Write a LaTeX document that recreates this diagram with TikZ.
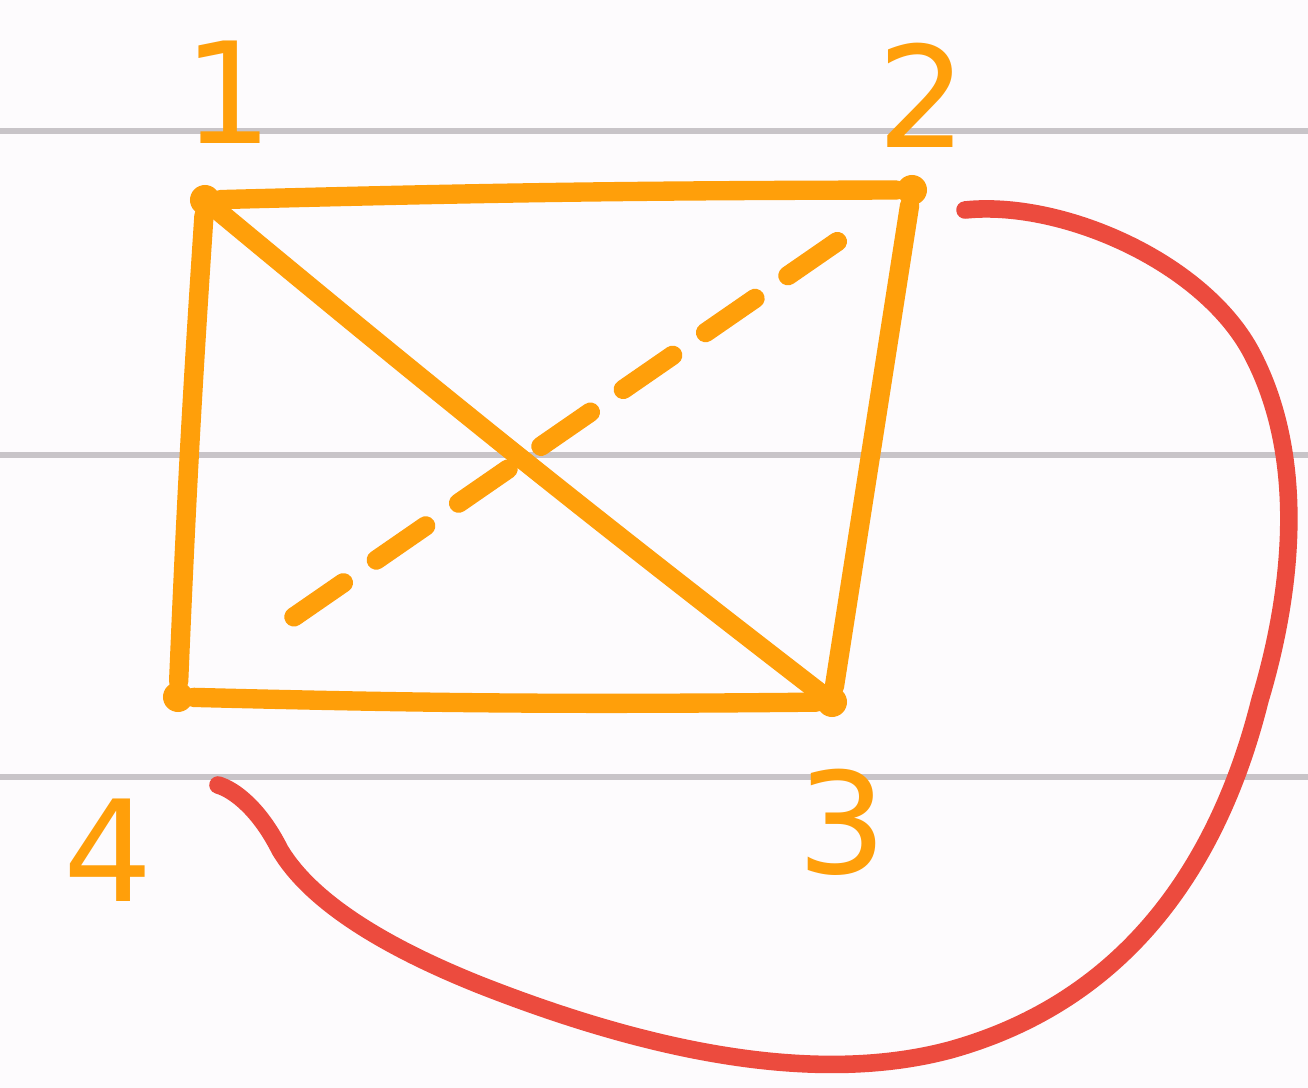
\documentclass[tikz,border=0pt]{standalone}
\usepackage{fontspec}
\setmainfont{DejaVu Sans}
\definecolor{bgc}{HTML}{FDFBFD}
\definecolor{rule}{HTML}{C8C4C8}
\definecolor{org}{HTML}{FF9F0A}
\definecolor{redc}{HTML}{EC4B3E}
\begin{document}
\begin{tikzpicture}[x=0.01cm,y=-0.01cm,
  edge/.style={draw=org,line width=5.5pt,line cap=round,line join=round},
  dashedge/.style={edge,dash pattern=on 0.6cm off 0.4cm},
  vlabel/.style={text=org,font=\fontsize{40}{40}\selectfont},
  vert/.style={circle,fill=org,inner sep=0pt,minimum size=0.3cm}]
\fill[bgc] (0,0) rectangle (1308,1088);
\useasboundingbox (0,0) rectangle (1308,1088);
\foreach \yy in {131,455,777} \draw[rule,line width=1.5pt] (0,\yy) -- (1308,\yy);
\node[vert] (v1) at (205,200) {};
\node[vert] (v2) at (912,190) {};
\node[vert] (v3) at (832,702) {};
\node[vert] (v4) at (178,697) {};
\node[vlabel] (l1) at (228,92) {1};
\node[vlabel] (l2) at (922,95) {2};
\node[vlabel] (l3) at (842,822) {3};
\node[vlabel] (l4) at (108,850) {4};
\draw[edge] (v1) to[bend left=0.7] (v2);
\draw[edge] (v2) -- (v3);
\draw[edge] (v3) to[bend left=1] (v4);
\draw[edge] (v4) to[bend left=0.7] (v1);
\draw[edge] (v1) to[bend right=1] (v3);
\draw[dashedge,shorten <=0.75cm,shorten >=1.0cm] (v2) -- (v4);
\coordinate (r2) at (965,210);
\coordinate (r4) at (218,785);
\draw[draw=redc,line width=5pt,line cap=round] (r2)
  .. controls (1060,200) and (1200,260) .. (1250,350)
  .. controls (1310,460) and (1290,600) .. (1260,700)
  .. controls (1220,860) and (1130,1000) .. (950,1050)
  .. controls (800,1090) and (620,1040) .. (480,985)
  .. controls (380,945) and (310,900) .. (280,850)
  .. controls (260,810) and (235,790) .. (r4);
\end{tikzpicture}
\end{document}
